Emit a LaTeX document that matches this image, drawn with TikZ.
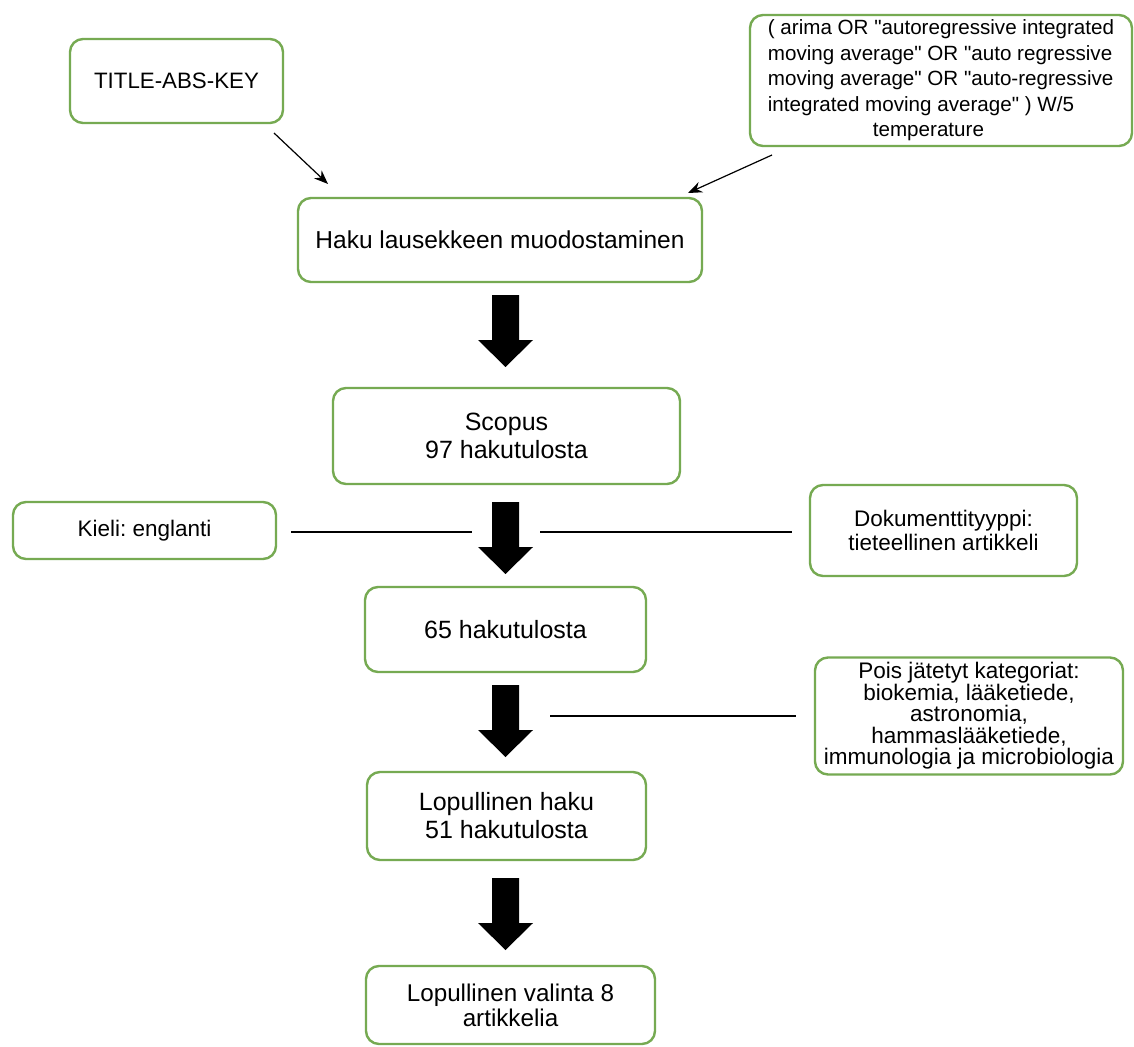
\documentclass[tikz,border=0pt]{standalone}
\usepackage{fontspec}
\setmainfont{Liberation Sans}
\newfontfamily\plainquotes{Liberation Sans}[Ligatures=TeXOff]
\usetikzlibrary{arrows.meta,calc}
\definecolor{boxgreen}{RGB}{118,170,82}
\frenchspacing
\tikzset{
  box/.style={draw=boxgreen, line width=2.4pt, rounded corners=13pt, fill=white,
    inner sep=0pt, align=center, font=\fontsize{25}{28}\selectfont},
  thinline/.style={line width=1.2pt, draw=black},
  thinarrow/.style={line width=1.2pt, draw=black, -{Stealth[length=14pt,width=11pt]}},
  blockfill/.style={fill=black}
}
\newcommand\blockarrowat[1]{%
  \fill[blockfill] (#1) ++(-13.5,0) -- ++(27,0) -- ++(0,45) -- ++(14,0)
    -- ++(-27.5,27) -- ++(-27.5,-27) -- ++(14,0) -- cycle;}
\begin{document}
\begin{tikzpicture}[x=1pt,y=-1pt]
\useasboundingbox[fill=white] (0,0) rectangle (1134,1046);

\node[box, minimum width=213, minimum height=84, font=\fontsize{22.3}{26}\selectfont] (title) at (176.5,81) {TITLE-ABS-KEY};
\node[box, minimum width=382, minimum height=131, align=left, font=\plainquotes\fontsize{20.6}{25.5}\selectfont] (query) at (941,80.5)
  {( arima OR "autoregressive integrated\\moving average" OR "auto regressive\\moving average" OR "auto-regressive\\integrated moving average" ) W/5\\\hspace*{105pt}temperature};
\node[box, minimum width=404, minimum height=84, font=\fontsize{24.5}{29}\selectfont] (haku) at (500,240) {Haku lausekkeen muodostaminen};
\node[box, minimum width=347, minimum height=96] (scopus) at (506.5,436) {Scopus\\97 hakutulosta};
\node[box, minimum width=263, minimum height=57, font=\fontsize{22.5}{24}\selectfont] (kieli) at (144.5,530.5) {Kieli: englanti};
\node[box, minimum width=267, minimum height=91, font=\fontsize{22.5}{24}\selectfont] (doc) at (943.5,530.5) {Dokumenttityyppi:\\tieteellinen artikkeli};
\node[box, minimum width=281, minimum height=85] (n65) at (505.5,629.5) {65 hakutulosta};
\node[box, minimum width=308, minimum height=117, font=\fontsize{22.5}{21.5}\selectfont] (pois) at (969,716)
  {Pois jätetyt kategoriat:\\biokemia, lääketiede,\\astronomia,\\hammaslääketiede,\\immunologia ja microbiologia};
\node[box, minimum width=279, minimum height=88] (lop) at (506.5,816) {Lopullinen haku\\51 hakutulosta};
\node[box, minimum width=289, minimum height=78, font=\fontsize{24.2}{25}\selectfont] (final) at (510.5,1005) {Lopullinen valinta 8\\artikkelia};

% thin arrows into the query-building step
\coordinate (t1) at (274,133);
\coordinate (t2) at (328,184);
\coordinate (q1) at (772,155);
\coordinate (q2) at (688,193);
\draw[thinarrow] (t1) -- (t2);
\draw[thinarrow] (q1) -- (q2);

% block arrows
\coordinate (ba1) at (505.5,295);
\coordinate (ba2) at (505.5,502);
\coordinate (ba3) at (505.5,685);
\coordinate (ba4) at (505.5,878);
\blockarrowat{ba1}
\blockarrowat{ba2}
\blockarrowat{ba3}
\blockarrowat{ba4}

% filter lines
\coordinate (kend) at (472,532);
\coordinate (dend) at (540,532);
\coordinate (pend) at (550,716);
\draw[thinline] ($(kieli.east)+(14,1.5)$) -- (kend);
\draw[thinline] ($(doc.west)+(-17,1.5)$) -- (dend);
\draw[thinline] ($(pois.west)+(-18,0)$) -- (pend);
\end{tikzpicture}
\end{document}
